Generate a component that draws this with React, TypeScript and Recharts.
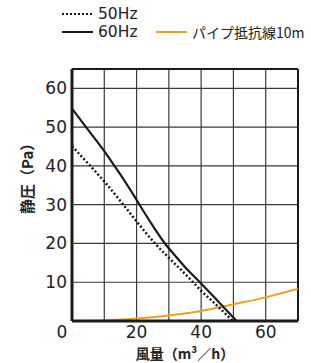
import { LineChart, Line, XAxis, YAxis, CartesianGrid, ReferenceLine } from "recharts";

// 風量 (m³/h) vs 静圧 (Pa)
const hz60 = [
  { q: 0, p: 54.8 },
  { q: 5, p: 49.3 },
  { q: 10, p: 43.8 },
  { q: 13, p: 40.2 },
  { q: 16, p: 36.5 },
  { q: 19, p: 32.6 },
  { q: 22, p: 28.5 },
  { q: 25, p: 24.6 },
  { q: 28.8, p: 20 },
  { q: 32, p: 16.8 },
  { q: 36, p: 13 },
  { q: 39.6, p: 10 },
  { q: 45, p: 5.3 },
  { q: 51, p: 0 },
];

const hz50 = [
  { q: 0, p: 45.1 },
  { q: 5, p: 40.6 },
  { q: 10, p: 36 },
  { q: 15.7, p: 30.2 },
  { q: 20, p: 25.7 },
  { q: 25.7, p: 20 },
  { q: 30, p: 16.3 },
  { q: 34, p: 13 },
  { q: 37.5, p: 10 },
  { q: 40, p: 7.8 },
  { q: 45, p: 3.9 },
  { q: 49.8, p: 0 },
];

const pipe10m = [
  { q: 0, p: 0 },
  { q: 10, p: 0.15 },
  { q: 20, p: 0.65 },
  { q: 30, p: 1.4 },
  { q: 40, p: 2.6 },
  { q: 50, p: 4.3 },
  { q: 60, p: 6.1 },
  { q: 70, p: 8.3 },
];

const xTicks = [0, 20, 40, 60];
const yTicks = [10, 20, 30, 40, 50, 60];
const gridX = [10, 20, 30, 40, 50, 60];
const gridY = [10, 20, 30, 40, 50, 60];

const ORANGE = "#E9A31F";
const INK = "#1a1a1a";
const NUM_FONT = "'DejaVu Sans', 'Noto Sans CJK JP', sans-serif";
const JP_FONT = "'Noto Sans CJK JP', 'DejaVu Sans', sans-serif";

function XTick(props: any) {
  const { x, y, payload } = props;
  const shift = payload.value === 0 ? -10 : 0;
  return (
    <text x={x + shift} y={y} dy="0.71em" textAnchor="middle" fontSize={17} fill="#222" fontFamily={NUM_FONT}>
      {payload.value}
    </text>
  );
}

function LegendRow({ top, left, dash, color, label, fontSize, fontFamily }: any) {
  return (
    <div style={{ position: "absolute", top, left, display: "flex", alignItems: "center", height: 18 }}>
      <svg width={32} height={6} style={{ marginRight: 4 }}>
        <line x1={0} y1={3} x2={31} y2={3} stroke={color} strokeWidth={2} strokeDasharray={dash} />
      </svg>
      <span style={{ fontSize, color: "#222", fontFamily, whiteSpace: "nowrap", lineHeight: "18px" }}>{label}</span>
    </div>
  );
}

export default function App() {
  return (
    <div style={{ position: "absolute", left: 0, top: 0, width: 311, height: 363, background: "#fff" }}>
      <LegendRow top={5} left={62} dash="2 2" color={INK} label="50Hz" fontSize={15.5} fontFamily={NUM_FONT} />
      <LegendRow top={23} left={62} color={INK} label="60Hz" fontSize={15.5} fontFamily={NUM_FONT} />
      <LegendRow top={23} left={156} color={ORANGE} label="パイプ抵抗線10m" fontSize={14} fontFamily={JP_FONT} />
      <LineChart width={311} height={363} margin={{ top: 69, right: 13, bottom: 0, left: 0 }}>
        <CartesianGrid
          verticalValues={gridX}
          horizontalValues={gridY}
          stroke="#3a3a3a"
          strokeWidth={1.2}
        />
        <XAxis
          type="number"
          dataKey="q"
          domain={[0, 70]}
          ticks={xTicks}
          height={42}
          tickSize={0}
          tickMargin={5}
          tick={<XTick />}
          axisLine={{ stroke: INK, strokeWidth: 3 }}
          allowDataOverflow
          label={{
            value: "風量（m³／h）",
            position: "insideBottom",
            offset: 4,
            fontSize: 14,
            fontWeight: 700,
            fill: "#222",
            fontFamily: JP_FONT,
          }}
        />
        <YAxis
          type="number"
          dataKey="p"
          domain={[0, 65]}
          ticks={yTicks}
          width={72}
          tickSize={0}
          tickMargin={5}
          tick={{ fontSize: 17, fill: "#222", fontFamily: NUM_FONT }}
          axisLine={{ stroke: INK, strokeWidth: 3 }}
          allowDataOverflow
          label={{
            value: "静圧（Pa）",
            angle: -90,
            position: "insideLeft",
            offset: 28,
            dy: 19,
            fontSize: 15,
            fontWeight: 700,
            fill: "#222",
            fontFamily: JP_FONT,
          }}
        />
        <ReferenceLine y={65} stroke={INK} strokeWidth={2} />
        <ReferenceLine x={70} stroke={INK} strokeWidth={2} />
        <Line data={pipe10m} dataKey="p" type="monotone" stroke={ORANGE} strokeWidth={2} dot={false} isAnimationActive={false} />
        <Line data={hz50} dataKey="p" type="monotone" stroke={INK} strokeWidth={2.5} strokeDasharray="2 2.2" dot={false} isAnimationActive={false} />
        <Line data={hz60} dataKey="p" type="monotone" stroke={INK} strokeWidth={2.2} dot={false} isAnimationActive={false} />
      </LineChart>
    </div>
  );
}
